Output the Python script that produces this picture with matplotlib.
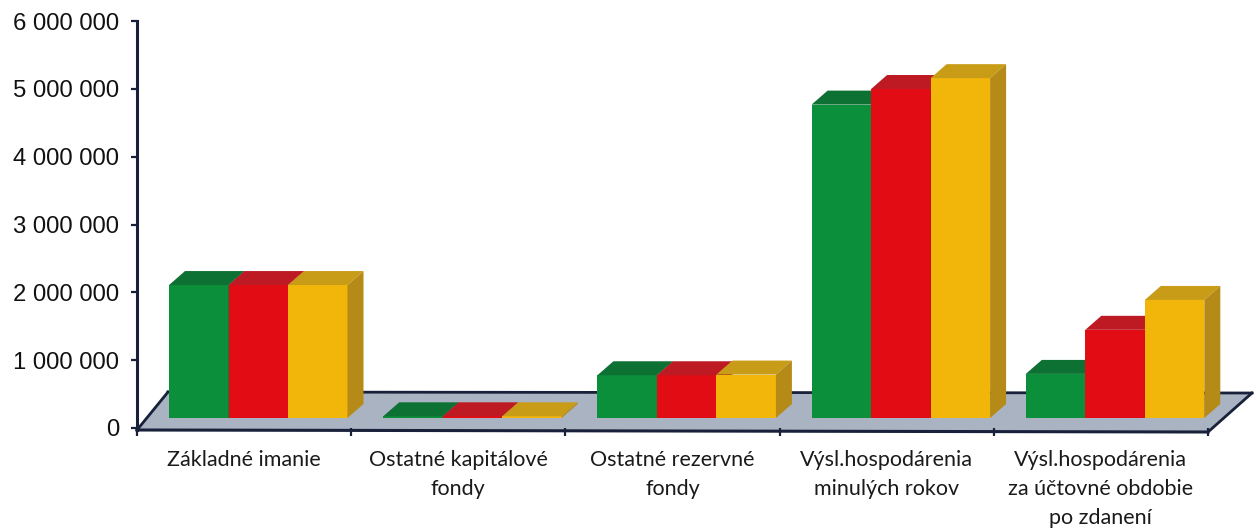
import numpy as np
import matplotlib
matplotlib.use('Agg')
import matplotlib.pyplot as plt
from matplotlib.patches import Polygon

categories = ['Základné imanie', 'Ostatné kapitálové\nfondy', 'Ostatné rezervné\nfondy',
              'Výsl.hospodárenia\nminulých rokov', 'Výsl.hospodárenia\nza účtovné obdobie\npo zdanení']
green_values = [1960000, 25000, 630000, 4620000, 650000]
red_values = [1960000, 25000, 630000, 4850000, 1300000]
yellow_values = [1960000, 25000, 640000, 5010000, 1740000]
y_ticks = [0, 1000000, 2000000, 3000000, 4000000, 5000000, 6000000]
y_tick_labels = ['0', '1 000 000', '2 000 000', '3 000 000', '4 000 000', '5 000 000', '6 000 000']

W, H = 1257, 528
fig = plt.figure(figsize=(W / 100, H / 100), dpi=100)
ax = fig.add_axes([137 / W, (H - 428) / H, 1071 / W, 407 / H])
ax.set_xlim(0, 5)
ax.set_ylim(0, 6000000)

# sizes of one pixel in data units, the fake 3D is built from these
px_x = 5 / 1071
px_y = 6000000 / 407
dx = 16 * px_x
dy = 14 * px_y
base = 10 * px_y
bar_w = 59.5 * px_x
start = 32 * px_x

axis_color = '#18213a'

# floor
floor = Polygon([(0, -2 * px_y), (5, -4 * px_y), (5 + 44 * px_x, 35 * px_y), (31 * px_x, 36 * px_y)],
                closed=True, facecolor='#aab3c2', edgecolor='none', clip_on=False, zorder=1)
ax.add_patch(floor)
ax.plot([31 * px_x, 5 + 44 * px_x], [36 * px_y, 35 * px_y], color=axis_color, lw=2, clip_on=False, zorder=2)
ax.plot([0, 31 * px_x], [-2 * px_y, 36 * px_y], color=axis_color, lw=2, clip_on=False, zorder=2)
ax.plot([5, 5 + 44 * px_x], [-4 * px_y, 35 * px_y], color=axis_color, lw=2, clip_on=False, zorder=2)
ax.plot([0, 5], [-2 * px_y, -4 * px_y], color=axis_color, lw=2.2, clip_on=False, zorder=2)

series = [
    (green_values, '#0b8f3b', '#0e7134'),
    (red_values, '#e20c14', '#bd1a24'),
    (yellow_values, '#f2b60b', '#c99c17'),
]
side_colors = ['#0a6a30', '#a01018', '#b58a17']

z = 3
for i in range(len(categories)):
    for j, (vals, front, top) in enumerate(series):
        x0 = i + start + j * bar_w
        x1 = x0 + bar_w
        y1 = base + vals[i]
        ax.bar(x0, vals[i], width=bar_w, bottom=base, align='edge', color=front, zorder=z, clip_on=False)
        ax.add_patch(Polygon([(x0, y1), (x1, y1), (x1 + dx, y1 + dy), (x0 + dx, y1 + dy)],
                             facecolor=top, edgecolor='none', zorder=z, clip_on=False))
        ax.add_patch(Polygon([(x1, base), (x1 + dx, base + dy), (x1 + dx, y1 + dy), (x1, y1)],
                             facecolor=side_colors[j], edgecolor='none', zorder=z, clip_on=False))
        z += 1

for s in ['top', 'right', 'bottom']:
    ax.spines[s].set_visible(False)
ax.spines['left'].set_color(axis_color)
ax.spines['left'].set_linewidth(2.2)
ax.spines['left'].set_bounds(-2 * px_y, 6000000)

ax.set_yticks(y_ticks)
ax.set_yticklabels(y_tick_labels, fontname='Liberation Sans', fontsize=17.2, color='#111111')
ax.tick_params(axis='y', length=4, width=1.6, color=axis_color, pad=9)

ax.set_xticks(np.arange(6))
ax.set_xticklabels([])
ax.tick_params(axis='x', which='major', length=5.5, width=1.6, color=axis_color)
ax.set_xticks(np.arange(5) + 0.5, minor=True)
ax.set_xticklabels(categories, minor=True, fontname='Lato', fontsize=15.5, color='#1a1a1a', linespacing=1.55)
ax.tick_params(axis='x', which='minor', length=0, pad=16)

fig.savefig('out.png', dpi=100)
